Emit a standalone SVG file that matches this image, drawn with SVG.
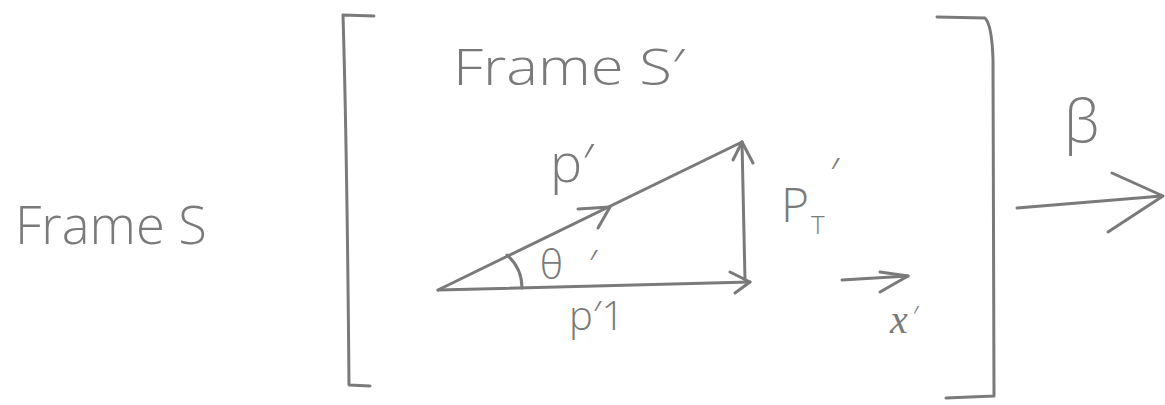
<svg xmlns="http://www.w3.org/2000/svg" width="1165" height="405" viewBox="0 0 1165 405">
<style>
.ln{fill:none;stroke:#7a7a7a;stroke-width:3;stroke-linecap:round;stroke-linejoin:round}
.tx{fill:#7a7a7a;font-family:"Open Sans","Liberation Sans",sans-serif;font-weight:300}
.sr{fill:#7a7a7a;font-family:"Liberation Serif",serif;font-style:italic}
</style>
<rect width="1165" height="405" fill="#ffffff"/>
<g id="frame-S">
<text class="tx" x="15" y="244" font-size="54" textLength="192" lengthAdjust="spacingAndGlyphs">Frame S</text>
</g>
<g id="frame-S-prime">
<path class="ln" d="M374,16 L343,15 Q347,150 349,385 L370,386"/>
<path class="ln" d="M937,17 L985,18 Q992,25 993,60 L994,396 L946,398"/>
<text class="tx" x="453" y="85" font-size="50" textLength="232" lengthAdjust="spacingAndGlyphs">Frame S′</text>
</g>
<g id="momentum-triangle">
<path class="ln" d="M507,255 Q522,268 522,288"/>
<text class="tx" x="550" y="182" font-size="54">p′</text>
<text class="tx" x="540" y="279" font-size="40">θ<tspan dx="26">′</tspan></text>
<text class="tx" x="569" y="330" font-size="40">p′1</text>
<text class="tx" x="781" y="222" font-size="48">P</text>
<text class="tx" x="811" y="234" font-size="26">T</text>
<text class="tx" x="830" y="190" font-size="44">′</text>
</g>
<g id="x-axis">
<text class="sr" x="890" y="333" font-size="40">x<tspan class="tx" font-size="30" dx="4" dy="-6">′</tspan></text>
</g>
<g id="beta">
<text class="tx" x="1064" y="142" font-size="58">β</text>
</g>
<g id="connectors">
<path class="ln" d="M438,290 L742,142"/>
<path class="ln" d="M578,209 L610,207 L598,228"/>
<path class="ln" d="M438,290 L750,282"/>
<path class="ln" d="M730,272 L750,282 L735,293"/>
<path class="ln" d="M742,142 L745,280"/>
<path class="ln" d="M733,160 L742,142 L753,163"/>
<path class="ln" d="M842,280 L908,276"/>
<path class="ln" d="M880,272 L908,276 L880,292"/>
<path class="ln" d="M1017,208 L1162,196"/>
<path class="ln" d="M1112,173 L1163,196 L1108,232"/>
</g>
</svg>
